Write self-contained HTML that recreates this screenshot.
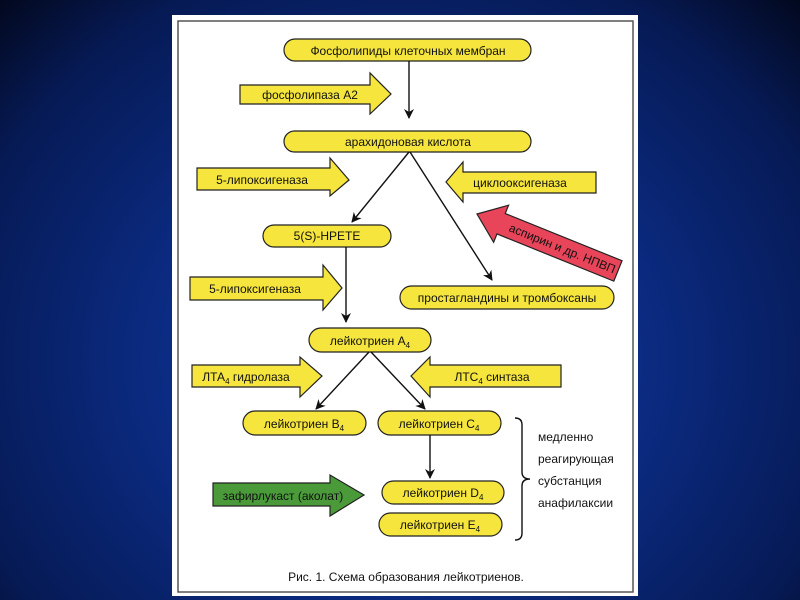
<!DOCTYPE html>
<html><head><meta charset="utf-8"><style>
html,body{margin:0;padding:0}
body{width:800px;height:600px;background:radial-gradient(ellipse at 50% 60%,#123a9a 0%,#0b2a80 45%,#061a55 80%,#02081e 100%);overflow:hidden;position:relative}
svg{position:absolute;left:0;top:0}
text{font-family:"Liberation Sans",sans-serif;font-size:12px;fill:#111}
</style></head><body>
<svg width="800" height="600" viewBox="0 0 800 600">
<defs><marker id="ah" markerWidth="10" markerHeight="10" refX="9" refY="5" orient="auto" markerUnits="userSpaceOnUse"><path d="M0,0 L10,5 L0,10 L3,5 Z" fill="#111"/></marker></defs>
<rect x="172" y="15" width="466" height="581" fill="#fff"/>
<rect x="178" y="21" width="455" height="571" fill="none" stroke="#555" stroke-width="1.5"/>
<g fill="#f5e53c" stroke="#222" stroke-width="1.2">
<rect x="284" y="39" width="247" height="22" rx="11"/>
<rect x="284" y="131" width="247" height="21" rx="10.5"/>
<rect x="263" y="225" width="128" height="22" rx="11"/>
<rect x="400" y="286" width="214" height="23" rx="11.5"/>
<rect x="309" y="328" width="122" height="24" rx="12"/>
<rect x="243" y="411" width="123" height="24" rx="12"/>
<rect x="378" y="411" width="123" height="24" rx="12"/>
<rect x="382" y="481" width="122" height="23" rx="11.5"/>
<rect x="379" y="513" width="123" height="23" rx="11.5"/>
<path d="M240,85 H370 V73 L391,94 L370,114 V104 H240 Z"/>
<path d="M197,168 H330 V158 L349,180 L330,196 V190 H197 Z"/>
<path d="M596,172 H463 V162 L446,182 L463,202 V193 H596 Z"/>
<path d="M190,277 H323 V265 L342,288 L323,310 V300 H190 Z"/>
<path d="M192,365 H300 V357 L322,376 L300,397 V387 H192 Z"/>
<path d="M561,365 H430 V357 L411,376 L430,397 V387 H561 Z"/>
</g>
<path d="M213,483 H330 V475 L364,495 L330,516 V506 H213 Z" fill="#4a9a3a" stroke="#222" stroke-width="1.2"/>
<g transform="translate(477,214) rotate(22)">
<path d="M0,0 L26,-20 V-11 H152 V11 H26 V20 Z" fill="#e8455a" stroke="#222" stroke-width="1.2"/>
<text x="92" y="4" text-anchor="middle" font-size="12">аспирин и др. НПВП</text>
</g>
<g stroke="#111" stroke-width="1.4" fill="none">
<line x1="409" y1="61" x2="409" y2="118" marker-end="url(#ah)"/>
<line x1="409" y1="152" x2="352" y2="222" marker-end="url(#ah)"/>
<line x1="410" y1="152" x2="492" y2="280" marker-end="url(#ah)"/>
<line x1="346" y1="247" x2="346" y2="322" marker-end="url(#ah)"/>
<line x1="369" y1="352" x2="316" y2="409" marker-end="url(#ah)"/>
<line x1="371" y1="352" x2="425" y2="409" marker-end="url(#ah)"/>
<line x1="430" y1="435" x2="430" y2="478" marker-end="url(#ah)"/>
<path d="M515,418 Q522,418 522,425 V472 Q522,479 530,479 Q522,479 522,486 V533 Q522,540 515,540"/>
</g>
<g text-anchor="middle">
<text x="408" y="55">Фосфолипиды клеточных мембран</text>
<text x="408" y="146">арахидоновая кислота</text>
<text x="327" y="240">5(S)-HPETE</text>
<text x="507" y="302">простагландины и тромбоксаны</text>
<text x="370" y="345">лейкотриен A<tspan font-size="8" dy="3">4</tspan></text>
<text x="304" y="428">лейкотриен B<tspan font-size="8" dy="3">4</tspan></text>
<text x="439" y="428">лейкотриен C<tspan font-size="8" dy="3">4</tspan></text>
<text x="443" y="497">лейкотриен D<tspan font-size="8" dy="3">4</tspan></text>
<text x="440" y="529">лейкотриен E<tspan font-size="8" dy="3">4</tspan></text>
<text x="310" y="99">фосфолипаза A2</text>
<text x="262" y="184">5-липоксигеназа</text>
<text x="520" y="187">циклооксигеназа</text>
<text x="255" y="293">5-липоксигеназа</text>
<text x="246" y="381">ЛТА<tspan font-size="8" dy="3">4</tspan><tspan dy="-3"> гидролаза</tspan></text>
<text x="492" y="381">ЛТС<tspan font-size="8" dy="3">4</tspan><tspan dy="-3"> синтаза</tspan></text>
<text x="283" y="500">зафирлукаст (аколат)</text>
</g>
<g font-size="12">
<text x="538" y="441">медленно</text>
<text x="538" y="463">реагирующая</text>
<text x="538" y="485">субстанция</text>
<text x="538" y="507">анафилаксии</text>
</g>
<text x="406" y="581" text-anchor="middle" font-size="13" fill="#222">Рис. 1. Схема образования лейкотриенов.</text>
</svg>
</body></html>
